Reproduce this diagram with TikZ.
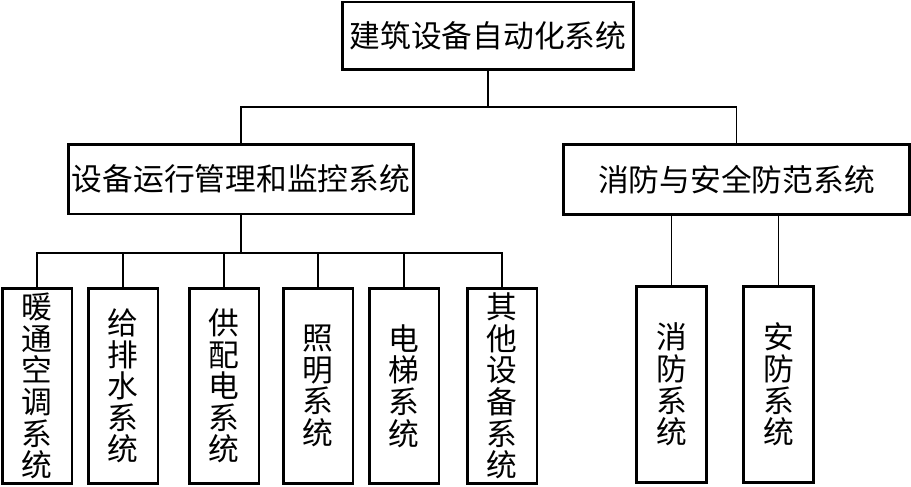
\documentclass[tikz,border=0pt]{standalone}
\usepackage{fontspec}
\newfontfamily\cjk{Noto Sans CJK SC}
\usetikzlibrary{positioning}

\begin{document}
\begin{tikzpicture}[
    x=0.02cm, y=-0.02cm,
    every node/.style={font=\cjk\fontsize{17.5}{18}\selectfont},
    rt/.style={draw, line width=1.7pt, fill=white, minimum width=5.84cm, minimum height=1.36cm, inner sep=0pt},
    sb/.style={draw, line width=1.7pt, fill=white, minimum width=6.92cm, minimum height=1.4cm, inner sep=0pt},
    lf/.style={draw, line width=1.7pt, fill=white, minimum width=1.4cm, minimum height=3.92cm, align=center, inner sep=0pt},
    ln/.style={line width=1.1pt}
]
\useasboundingbox (0,0) rectangle (911,486);
% root
\node[rt] (bas) at (488,36) {建筑设备自动化系统};
% second level
\node[sb] (mgmt) at (241,179) {设备运行管理和监控系统};
\node[sb] (fire) at (736.5,179.5) {消防与安全防范系统};
\coordinate (j1) at (488,107);
\draw[ln] (bas.south) -- (j1);
\draw[ln] (mgmt.north) |- (j1) -| (fire.north);
% management branch
\node[lf] (hvac)  at (37,386)  {暖\\通\\空\\调\\系\\统};
\node[lf] (water) at (123,386) {给\\排\\水\\系\\统};
\node[lf] (power) at (224,386) {供\\配\\电\\系\\统};
\node[lf] (light) at (318,386) {照\\明\\系\\统};
\node[lf] (lift)  at (404,386) {电\\梯\\系\\统};
\node[lf] (other) at (502,386) {其\\他\\设\\备\\系\\统};
\coordinate (j2) at (241,253);
\draw[ln] (mgmt.south) -- (j2);
\foreach \n in {hvac,water,power,light,lift,other}
  \draw[ln] (j2) -| (\n.north);
% fire and security branch
\node[lf] (fp) at (671.5,384.5) {消\\防\\系\\统};
\node[lf] (sp) at (778.5,384.5) {安\\防\\系\\统};
\draw[ln] (fp.north |- fire.south) -- (fp.north);
\draw[ln] (sp.north |- fire.south) -- (sp.north);
\end{tikzpicture}
\end{document}
